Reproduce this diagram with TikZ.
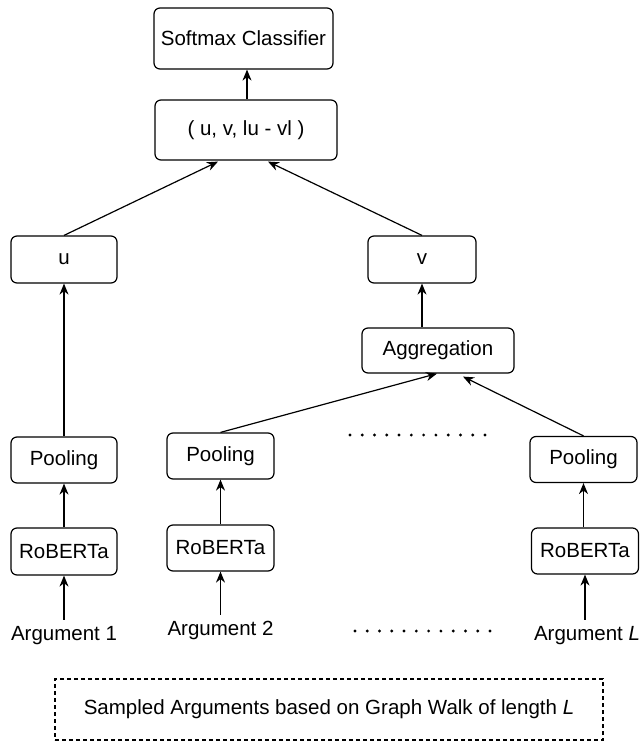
\documentclass[tikz,border=0pt]{standalone}
\usepackage{fontspec}
\setmainfont{Liberation Sans}
\usetikzlibrary{arrows.meta,calc}
\tikzset{
  blk/.style={draw=black, line width=1.2pt, rounded corners=6pt, minimum height=46pt, inner sep=0pt, align=center},
  lbl/.style={inner sep=5.5pt, text height=15pt, text depth=4pt},
  arr/.style={draw=black, line width=1.2pt, -{Stealth[length=11pt,width=9pt,inset=3.5pt]}},
  dotrow/.style={line width=3.2pt, line cap=round, dash pattern=on 0pt off 12.27pt},
  walkbox/.style={draw=black, line width=1.1pt, dash pattern=on 4pt off 3pt, minimum width=548pt, minimum height=61pt, inner sep=0pt}
}
\begin{document}
\begin{tikzpicture}[x=1pt,y=-1pt,font=\fontsize{20.5}{24}\selectfont]
\useasboundingbox (0,0) rectangle (644,742);
% top
\node[blk, minimum width=179pt, minimum height=61pt] (soft) at (243.5,38.5) {Softmax Classifier};
\node[blk, minimum width=182pt, minimum height=60pt] (tup) at (246,130) {( u, v, lu - vl )};
\node[blk, minimum width=106pt, minimum height=47pt] (u) at (64,259.5) {u};
\node[blk, minimum width=108pt, minimum height=47pt] (v) at (422,259.5) {v};
\node[blk, minimum width=152pt, minimum height=45pt] (agg) at (438,350.5) {Aggregation};
% pooling
\node[blk, minimum width=106pt] (p1) at (64,460) {Pooling};
\node[blk, minimum width=107pt] (p2) at (220.5,456) {Pooling};
\node[blk, minimum width=107pt] (pL) at (583.5,459.5) {Pooling};
% roberta
\node[blk, minimum width=106pt, minimum height=47pt] (r1) at (64,551.5) {RoBERTa};
\node[blk, minimum width=107pt, minimum height=46pt] (r2) at (220.5,548) {RoBERTa};
\node[blk, minimum width=107pt, minimum height=46pt] (rL) at (585,551) {RoBERTa};
% arguments
\node[lbl] (a1) at (64,635) {Argument 1};
\node[lbl] (a2) at (220.5,630) {Argument 2};
\node[lbl] (aL) at (587,635) {Argument \textit{L}};
% dots
\coordinate (d1s) at (350,435);
\coordinate (d1e) at (485.5,435);
\coordinate (d2s) at (355,631);
\coordinate (d2e) at (490.5,631);
\draw[dotrow] (d1s) -- (d1e);
\draw[dotrow] (d2s) -- (d2e);
% walk box
\node[walkbox] (walk) at (329,709.5) {Sampled Arguments based on Graph Walk of length \textit{L}};
% arrows
\draw[arr] (a1.north) -- (r1.south);
\draw[arr] (a2.north) -- (r2.south);
\draw[arr] (rL.south |- aL.north) -- (rL.south);
\draw[arr] (r1.north) -- (p1.south);
\draw[arr] (r2.north) -- (p2.south);
\draw[arr] (pL.south |- rL.north) -- (pL.south);
\draw[arr] (p1.north) -- (u.south);
\draw[arr] (p2.north) -- ($(agg.south)+(-1,0)$);
\draw[arr] (pL.north) -- ($(agg.south)+(25,3)$);
\draw[arr] (v.south |- agg.north) -- (v.south);
\draw[arr] (u.north) -- ($(tup.south)+(-28,1)$);
\draw[arr] (v.north) -- ($(tup.south)+(22,1)$);
\coordinate (tt) at ($(tup.north)+(1,0)$);
\draw[arr] (tt) -- (tt |- soft.south);
\end{tikzpicture}
\end{document}
